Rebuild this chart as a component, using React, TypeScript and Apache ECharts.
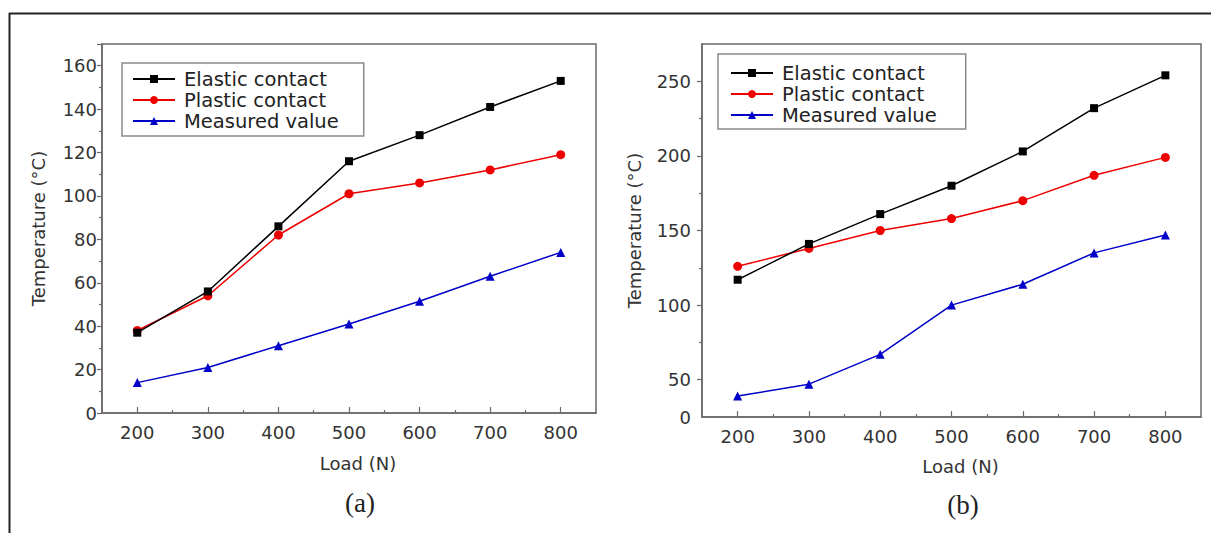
import React, { useEffect, useRef } from "react";
import * as echarts from "echarts";

const loads = [200, 300, 400, 500, 600, 700, 800];
const xTickValues = [200, 300, 400, 500, 600, 700, 800];
const xMinorValues = [250, 350, 450, 550, 650, 750];

// (a)
const elasticA = [37, 56, 86, 116, 128, 141, 153];
const plasticA = [38, 54, 82, 101, 106, 112, 119];
const measuredA = [14, 21, 31, 41, 51.5, 63, 74];

// (b)
const elasticB = [117, 141, 161, 180, 203, 232, 254];
const plasticB = [126, 138, 150, 158, 170, 187, 199];
const measuredB = [39, 47, 67, 100, 114, 135, 147];
const yLabelValuesB = [25, 50, 100, 150, 200, 250];
const yTickValuesB = [50, 100, 150, 200, 250];
const yMinorValuesB = [75, 125, 175, 225];

const seriesNames = ["Elastic contact", "Plastic contact", "Measured value"];

const FONT = "DejaVu Sans";
const AXIS_COLOR = "#6a6a6a";
const TEXT_COLOR = "#333";
const TICK_FONT = 18;

const pair = (vals: number[]) => loads.map((x, i) => [x, vals[i]]);

export default function App() {
  const ref = useRef<HTMLDivElement>(null);
  useEffect(() => {
    if (!ref.current) return;
    const chart = echarts.init(ref.current, undefined, { renderer: "svg" });

    const mainX = (gridIndex: number, nameGap: number) => ({
      type: "value",
      gridIndex,
      min: 150,
      max: 850,
      name: "Load (N)",
      nameLocation: "middle",
      nameGap,
      nameTextStyle: { fontFamily: FONT, fontSize: TICK_FONT, color: TEXT_COLOR, padding: [0, 0, 0, 18] },
      axisLine: { show: true, lineStyle: { color: AXIS_COLOR, width: 1.5 } },
      axisTick: { show: true, inside: true, length: 6, customValues: xTickValues, lineStyle: { color: AXIS_COLOR, width: 1.2 } },
      axisLabel: { customValues: xTickValues, margin: 10, fontFamily: FONT, fontSize: TICK_FONT, color: TEXT_COLOR },
      splitLine: { show: false },
    });
    const minorX = (gridIndex: number) => ({
      type: "value",
      gridIndex,
      min: 150,
      max: 850,
      position: "bottom",
      axisLine: { show: false },
      axisTick: { show: true, inside: true, length: 3, customValues: xMinorValues, lineStyle: { color: AXIS_COLOR, width: 1.2 } },
      axisLabel: { show: false },
      splitLine: { show: false },
    });

    const lineSeries = (name: string, data: number[], idx: number, xi: number, yi: number) => {
      const color = idx === 0 ? "#000000" : idx === 1 ? "#ee0000" : "#0000c8";
      const symbol = idx === 0 ? "rect" : idx === 1 ? "circle" : "triangle";
      const size = idx === 0 ? 8 : idx === 1 ? 9 : 9;
      return {
        type: "line",
        name,
        xAxisIndex: xi,
        yAxisIndex: yi,
        data: pair(data),
        symbol,
        symbolSize: size,
        showAllSymbol: true,
        lineStyle: { color, width: 1.5 },
        itemStyle: { color, borderWidth: 0 },
        z: 3 - idx + 2,
      };
    };

    const legendCommon = {
      orient: "vertical",
      itemWidth: 42,
      itemHeight: 10,
      backgroundColor: "#fff",
      borderColor: "#8a8a8a",
      borderWidth: 1.5,
      borderRadius: 0,
      textStyle: { fontFamily: FONT, fontSize: 19.5, color: "#222", lineHeight: 18, padding: [0, 0, 0, 4] },
      data: seriesNames,
    };

    chart.setOption({
      animation: false,
      backgroundColor: "#fff",
      grid: [
        { left: 102, top: 44, width: 494, height: 369, show: true, borderColor: AXIS_COLOR, borderWidth: 1.5, backgroundColor: "transparent" },
        { left: 702, top: 44, width: 499, height: 373, show: true, borderColor: AXIS_COLOR, borderWidth: 1.5, backgroundColor: "transparent" },
      ],
      legend: [
        { ...legendCommon, left: 122, top: 63, itemGap: 1, padding: [6, 25, 5, 10] },
        { ...legendCommon, left: 718, top: 54, itemGap: 1, padding: [9, 29, 4, 12] },
      ],
      xAxis: [mainX(0, 41), minorX(0), mainX(1, 40), minorX(1)],
      yAxis: [
        {
          type: "value",
          gridIndex: 0,
          min: 0,
          max: 170,
          interval: 20,
          name: "Temperature (°C)",
          nameLocation: "middle",
          nameGap: 55,
          nameTextStyle: { fontFamily: FONT, fontSize: TICK_FONT, color: TEXT_COLOR },
          axisLine: { show: true, lineStyle: { color: AXIS_COLOR, width: 1.5 } },
          axisTick: { show: true, inside: false, length: 5, lineStyle: { color: AXIS_COLOR, width: 1.2 } },
          minorTick: { show: true, splitNumber: 2, length: 3, lineStyle: { color: AXIS_COLOR, width: 1.2 } },
          axisLabel: { showMaxLabel: false, margin: 5, fontFamily: FONT, fontSize: TICK_FONT, color: TEXT_COLOR },
          splitLine: { show: false },
        },
        {
          type: "value",
          gridIndex: 1,
          min: 25,
          max: 275,
          name: "Temperature (°C)",
          nameLocation: "middle",
          nameGap: 59,
          nameTextStyle: { fontFamily: FONT, fontSize: TICK_FONT, color: TEXT_COLOR },
          axisLine: { show: true, lineStyle: { color: AXIS_COLOR, width: 1.5 } },
          axisTick: { show: true, inside: false, length: 5, customValues: yTickValuesB, lineStyle: { color: AXIS_COLOR, width: 1.2 } },
          axisLabel: {
            customValues: yLabelValuesB,
            margin: 11,
            fontFamily: FONT,
            fontSize: TICK_FONT,
            color: TEXT_COLOR,
            formatter: (v: number) => (v === 25 ? "0" : String(v)),
          },
          splitLine: { show: false },
        },
        {
          type: "value",
          gridIndex: 1,
          min: 25,
          max: 275,
          position: "left",
          axisLine: { show: false },
          axisTick: { show: true, inside: false, length: 3, customValues: yMinorValuesB, lineStyle: { color: AXIS_COLOR, width: 1.2 } },
          axisLabel: { show: false },
          splitLine: { show: false },
        },
      ],
      series: [
        lineSeries(seriesNames[0], elasticA, 0, 0, 0),
        lineSeries(seriesNames[1], plasticA, 1, 0, 0),
        lineSeries(seriesNames[2], measuredA, 2, 0, 0),
        lineSeries(seriesNames[0], elasticB, 0, 2, 1),
        lineSeries(seriesNames[1], plasticB, 1, 2, 1),
        lineSeries(seriesNames[2], measuredB, 2, 2, 1),
      ],
      graphic: [
        { type: "line", shape: { x1: 9, y1: 13.5, x2: 1211, y2: 13.5 }, style: { stroke: "#222", lineWidth: 2 } },
        { type: "line", shape: { x1: 9.5, y1: 13, x2: 9.5, y2: 533 }, style: { stroke: "#222", lineWidth: 2 } },
        {
          type: "text",
          x: 360,
          y: 503,
          style: { text: "(a)", fontFamily: "Liberation Serif", fontSize: 27, fill: "#222", align: "center", verticalAlign: "middle" },
        },
        {
          type: "text",
          x: 963,
          y: 505,
          style: { text: "(b)", fontFamily: "Liberation Serif", fontSize: 27, fill: "#222", align: "center", verticalAlign: "middle" },
        },
      ],
    });
    return () => chart.dispose();
  }, []);

  return <div ref={ref} style={{ position: "fixed", left: 0, top: 0, width: 1211, height: 533 }} />;
}
